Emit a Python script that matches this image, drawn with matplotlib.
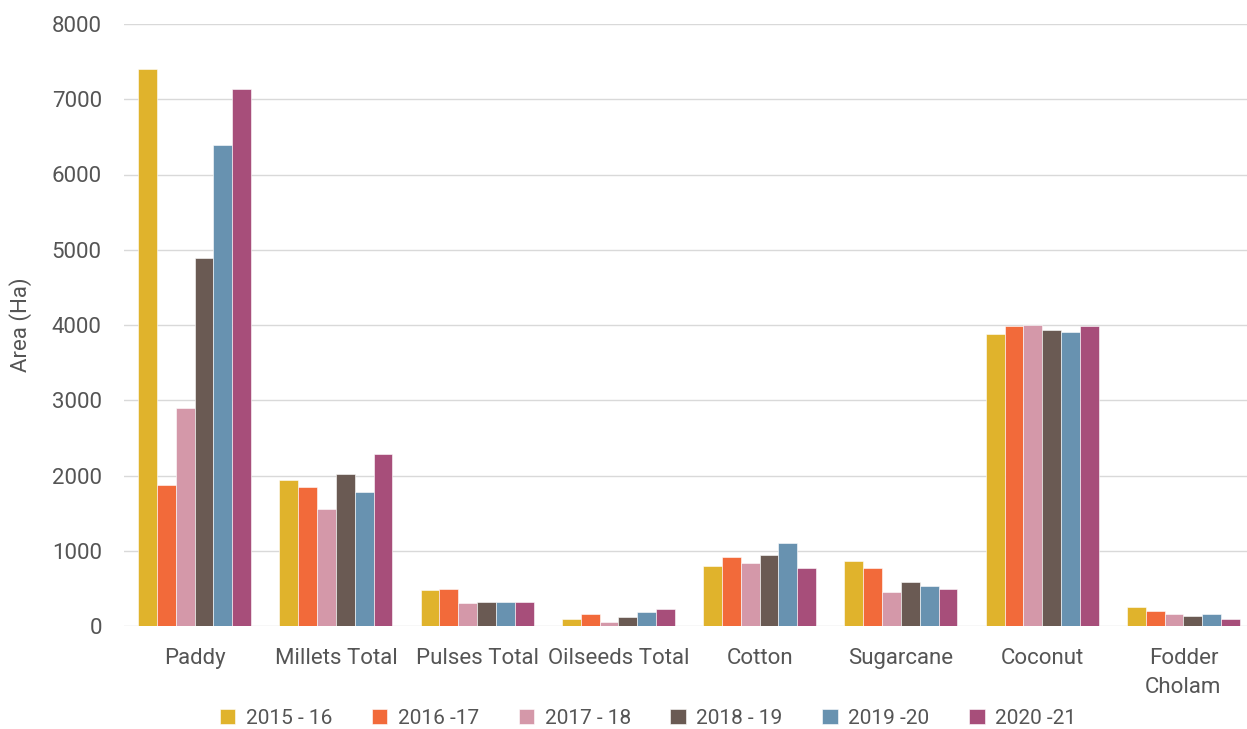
import matplotlib.pyplot as plt
import numpy as np

crops = ['Paddy', 'Millets Total', 'Pulses Total', 'Oilseeds Total',
         'Cotton', 'Sugarcane', 'Coconut', 'Fodder\nCholam']
years = ['2015 - 16', '2016 -17', '2017 - 18', '2018 - 19', '2019 -20', '2020 -21']

y2015 = [7400, 1940, 478, 93, 793, 860, 3880, 250]
y2016 = [1870, 1850, 492, 160, 913, 775, 3987, 196]
y2017 = [2900, 1550, 306, 57, 842, 448, 3996, 160]
y2018 = [4890, 2020, 319, 120, 940, 581, 3933, 130]
y2019 = [6390, 1780, 319, 190, 1099, 532, 3907, 160]
y2020 = [7140, 2290, 319, 222, 766, 492, 3991, 93]
series = [y2015, y2016, y2017, y2018, y2019, y2020]

colors = ['#E0B32C', '#F26A3A', '#D498A9', '#6A5A53', '#6892B0', '#A74E7A']

plt.rcParams['font.family'] = ['Roboto', 'DejaVu Sans']

fig = plt.figure(figsize=(12.47, 7.29), dpi=100)
ax = fig.add_axes([124 / 1247, 103 / 729, 1123 / 1247, 602 / 729])

x = np.arange(len(crops))
w = 0.8 / len(series)
for i, (vals, c, lab) in enumerate(zip(series, colors, years)):
    ax.bar(x - 0.4 + w * (i + 0.5), vals, width=w, color=c, label=lab,
           edgecolor='white', linewidth=0.4, zorder=3)

ax.set_ylim(0, 8000)
ax.set_xlim(-0.5, 7.45)
ax.set_yticks(range(0, 8001, 1000))
ax.set_xticks(x)
ax.set_xticklabels(crops, linespacing=1.5)
ax.tick_params(axis='both', length=0, labelsize=16, colors='#555555')
ax.tick_params(axis='x', pad=16)
ax.tick_params(axis='y', pad=16)
ax.yaxis.grid(True, color='#d9d9d9', linewidth=1, zorder=0)
for s in ax.spines.values():
    s.set_visible(False)
ax.set_ylabel('Area (Ha)', fontsize=16, color='#555555')
ax.yaxis.set_label_coords(-92 / 1123, 0.5)

ax.legend(loc='center', bbox_to_anchor=(524 / 1123, -0.153), ncol=6,
          frameon=False, fontsize=15, labelcolor='#555555', handlelength=0.75,
          handleheight=0.75, handletextpad=0.5, columnspacing=1.9)

fig.savefig('out.png', dpi=100)
